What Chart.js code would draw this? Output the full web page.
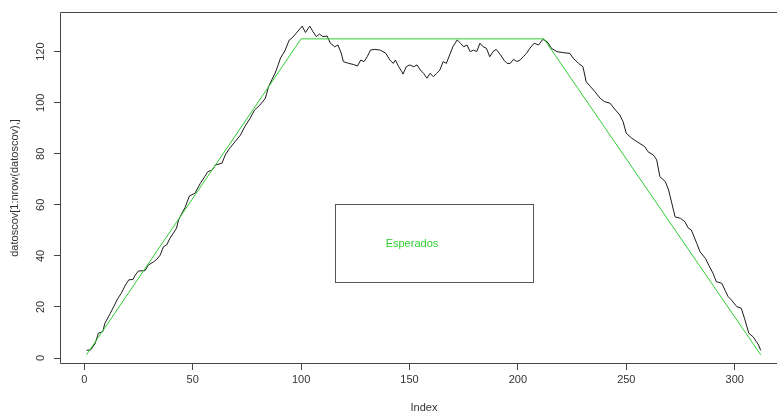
<!DOCTYPE html>
<html>
<head>
<meta charset="utf-8">
<script src="https://cdn.jsdelivr.net/npm/chart.js@4/dist/chart.umd.min.js"></script>
<style>
  html, body { margin: 0; padding: 0; background: #ffffff; overflow: hidden; }
  #wrap { width: 777px; height: 415px; overflow: hidden; }
  canvas { display: block; }
</style>
</head>
<body>
<div id="wrap"><canvas id="plot" width="790" height="415"></canvas></div>
<script>
// Observed series: index and value of datoscov
const obsIndex = [
  1, 3, 5, 6.5, 8.5, 9.5, 12, 13.5, 15.5, 17, 19, 20.5, 22.5, 23.5, 25, 28, 29.5, 32, 33.5, 35,
  36.5, 38, 39.5, 41, 42.5, 43.5, 45.5, 46.5, 48.5, 51, 53.5, 55.5, 57, 59, 60.5, 63.5, 65, 67, 69.5, 72,
  74, 76.5, 78.5, 81, 83.5, 85, 86.5, 88, 89.5, 90.5, 92.5, 94.5, 96, 97.5, 99, 100.5, 102, 104, 105.5, 107,
  108.5, 110, 112, 113.5, 115.5, 117, 118.5, 119.5, 122, 124, 126, 127.5, 129, 130.5, 132, 134, 136.5, 139, 141, 142.5,
  143.5, 145, 146.5, 147, 148.5, 150, 152, 153.5, 155, 156.5, 158, 159.5, 161, 162.5, 164, 165.5, 167, 168.5, 170, 172,
  173.5, 175, 176.5, 178, 179.5, 181, 182.5, 184, 185.5, 187, 188.5, 190, 192, 193.5, 195, 196.5, 198, 199.5, 201, 202.5,
  204, 205.5, 207.5, 209.5, 211.5, 213.5, 215.5, 218, 221, 224, 225.5, 228, 230, 231.5, 233.5, 235.5, 238, 240, 242.5, 245,
  247, 248.5, 250, 252.5, 255, 258.5, 260, 262.5, 264, 265.5, 268, 269.5, 271, 272.5, 275, 277, 278.5, 280, 282.5, 284,
  286.5, 288, 290, 291.5, 294, 295.5, 297, 298.5, 301, 303, 304.5, 306.5, 308.5, 310, 311, 312
];
const obsValue = [
  3, 3.2, 5.7, 9.7, 10.3, 13.6, 17.5, 20, 23.4, 25.3, 28.6, 30.6, 30.8, 32.5, 34.1, 34.2, 36.4, 37.7, 38.7, 40.3,
  43.6, 44.3, 46.9, 48.8, 50.8, 54.1, 57.5, 59, 63.5, 64.5, 68.4, 71, 73, 73.6, 75.6, 76.3, 79.5, 82.1, 84.7, 87.3,
  90.6, 93.9, 97.1, 99.1, 101.7, 106.3, 109, 111.5, 115, 117.5, 120.3, 124.5, 125.5, 127, 128.5, 130, 127.5, 130, 127.8, 125.9,
  126.9, 125.9, 126.1, 123.3, 121.9, 122.6, 119.4, 116.1, 115.4, 115, 114.4, 116.7, 116.1, 118, 120.6, 120.9, 120.6, 119.4, 116.7, 115.4,
  116.7, 114.1, 112.1, 111.2, 114.1, 114.8, 114.1, 114.8, 112.8, 111.5, 109.6, 111.5, 110.2, 111.5, 112.8, 116.1, 115.4, 118.7, 121.9, 124.6,
  123.3, 121.9, 122.6, 120, 120.6, 120, 123.3, 121.9, 121.3, 118, 120, 120.9, 118.7, 116.7, 115.4, 115.4, 117, 116.1, 116.7, 118,
  119.4, 121.3, 123.3, 122.6, 124.8, 123.9, 121.3, 120, 119.6, 119.3, 117.4, 115.4, 114.1, 108.2, 106.3, 104.3, 101.7, 100.4, 99.8, 97.1,
  95.2, 92.6, 88, 86.1, 84.7, 82.8, 80.8, 79.5, 77.6, 71, 69.1, 65.8, 60.6, 55.3, 54.7, 53.4, 51, 50.1, 44.9, 41.6,
  39, 36.4, 33.2, 29.9, 29.3, 26.6, 24, 22.7, 20.1, 19.5, 15.6, 9.7, 8.3, 6.4, 5.1, 3
];

// Expected series (Esperados): corner points of the trapezoid
const expIndex = [1, 100, 212, 312];
const expValue = [1.25, 125, 125, 1.25];

// Axis tick labels
const xTicks = [0, 50, 100, 150, 200, 250, 300];
const yTicks = [0, 20, 40, 60, 80, 100, 120];

const legendLabel = 'Esperados';
const xTitle = 'Index';
const yTitle = 'datoscov[1:nrow(datoscov),]';

// Plot region limits (R-style 4% expansion)
const xMin = -11.21, xMax = 324.58;
const yMin = -2.35, yMax = 135.53;

// Legend box corners in data units
const legendBox = { x0: 115.8, x1: 207.1, y0: 60.2, y1: 29.65, textX: 139, textY: 44.5 };

const GREEN = '#33cc33';
const FONT = '"Liberation Sans", Arial, sans-serif';

const toPoints = (xs, ys) => xs.map((x, i) => ({ x: x, y: ys[i] }));

const frameAndLegend = {
  id: 'frameAndLegend',
  afterDatasetsDraw(chart) {
    const ctx = chart.ctx;
    const a = chart.chartArea;
    const xs = chart.scales.x, ys = chart.scales.y;
    ctx.save();
    // plot frame
    ctx.strokeStyle = '#444';
    ctx.lineWidth = 1;
    ctx.beginPath();
    const L = Math.round(a.left) + 0.5, R = Math.round(a.right) - 0.5;
    const T = Math.round(a.top) + 0.5, B = Math.round(a.bottom) - 0.5;
    ctx.moveTo(L, T); ctx.lineTo(R, T); ctx.lineTo(R, B); ctx.lineTo(L, B); ctx.closePath();
    ctx.stroke();
    // legend
    const lx0 = Math.round(xs.getPixelForValue(legendBox.x0)) + 0.5;
    const lx1 = Math.round(xs.getPixelForValue(legendBox.x1)) + 0.5;
    const ly0 = Math.round(ys.getPixelForValue(legendBox.y0)) + 0.5;
    const ly1 = Math.round(ys.getPixelForValue(legendBox.y1)) + 0.5;
    ctx.strokeStyle = '#555';
    ctx.strokeRect(lx0, ly0, lx1 - lx0, ly1 - ly0);
    ctx.fillStyle = GREEN;
    ctx.font = '11px ' + FONT;
    ctx.textAlign = 'left';
    ctx.textBaseline = 'middle';
    ctx.fillText(legendLabel, xs.getPixelForValue(legendBox.textX), ys.getPixelForValue(legendBox.textY));
    ctx.restore();
  }
};

new Chart(document.getElementById('plot'), {
  type: 'scatter',
  data: {
    datasets: [
      {
        label: legendLabel,
        data: toPoints(expIndex, expValue),
        showLine: true,
        borderColor: GREEN,
        borderWidth: 1,
        pointRadius: 0,
        tension: 0,
        order: 0
      },
      {
        label: 'datoscov',
        data: toPoints(obsIndex, obsValue),
        showLine: true,
        borderColor: '#1a1a1a',
        borderWidth: 1,
        pointRadius: 0,
        tension: 0,
        order: 1
      }
    ]
  },
  options: {
    responsive: false,
    devicePixelRatio: 1,
    animation: false,
    layout: { padding: { top: 12, right: 2, left: 0, bottom: 0 } },
    plugins: { legend: { display: false }, tooltip: { enabled: false } },
    scales: {
      x: {
        type: 'linear',
        min: xMin,
        max: xMax,
        afterBuildTicks: s => { s.ticks = xTicks.map(v => ({ value: v })); },
        afterFit: s => { s.height = 51; },
        grid: { drawOnChartArea: false, tickLength: 6, tickColor: '#444' },
        border: { display: false },
        ticks: {
          color: '#333',
          font: { family: FONT, size: 11 },
          padding: 3,
          maxRotation: 0,
          minRotation: 0,
          autoSkip: false
        },
        title: {
          display: true,
          text: xTitle,
          color: '#333',
          font: { family: FONT, size: 11 },
          padding: { top: 0, bottom: 0 }
        }
      },
      y: {
        type: 'linear',
        min: yMin,
        max: yMax,
        afterBuildTicks: s => { s.ticks = yTicks.map(v => ({ value: v })); },
        afterFit: s => { s.width = 60; },
        grid: { drawOnChartArea: false, tickLength: 6, tickColor: '#444' },
        border: { display: false },
        ticks: {
          color: '#333',
          font: { family: FONT, size: 11 },
          padding: 4,
          minRotation: 90,
          maxRotation: 90,
          crossAlign: 'center',
          autoSkip: false
        },
        title: {
          display: true,
          text: yTitle,
          color: '#333',
          font: { family: FONT, size: 11 },
          padding: { top: 8, bottom: 0 }
        }
      }
    }
  },
  plugins: [frameAndLegend]
});
</script>
</body>
</html>
